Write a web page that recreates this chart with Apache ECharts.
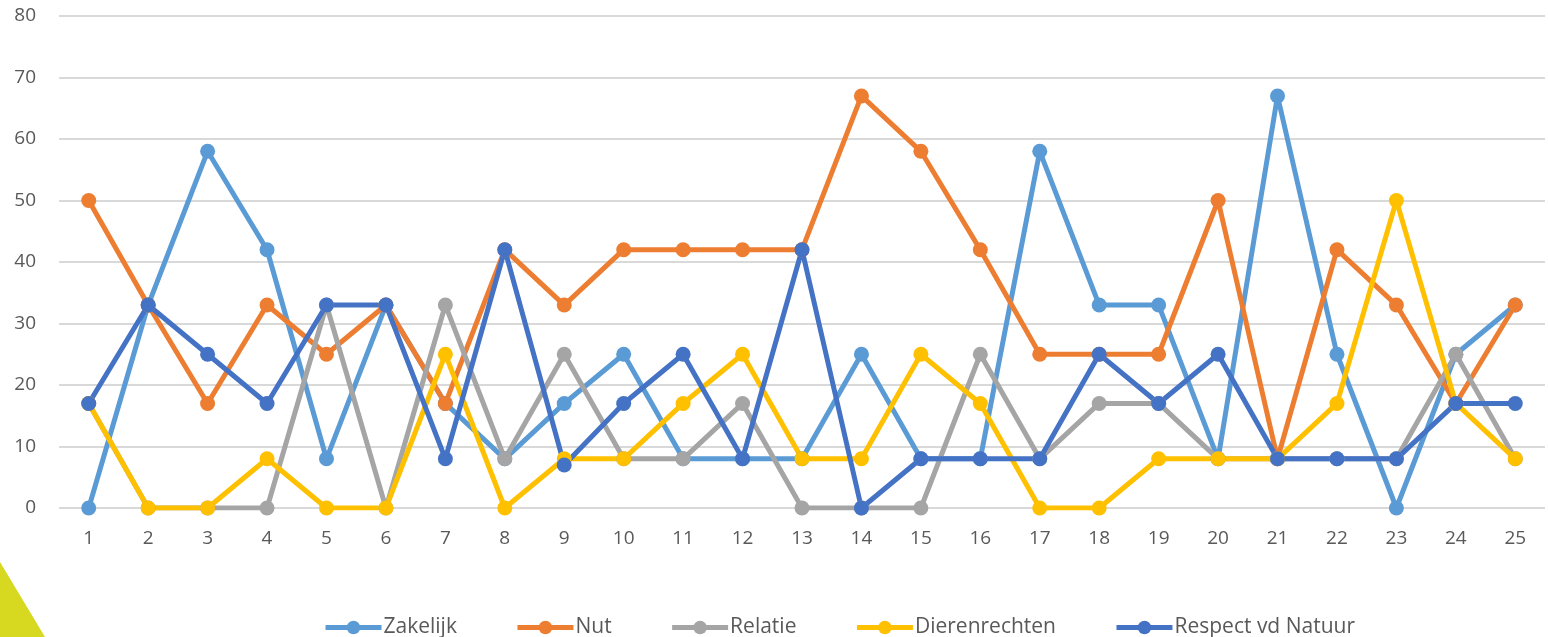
<!DOCTYPE html>
<html>
<head>
<meta charset="utf-8">
<script src="https://cdn.jsdelivr.net/npm/echarts@6/dist/echarts.min.js"></script>
<style>
html, body { margin: 0; padding: 0; background: #fff; }
#chart { width: 1548px; height: 637px; }
</style>
</head>
<body>
<div id="chart"></div>
<script>
// categorieen 1..25
var categories = ['1','2','3','4','5','6','7','8','9','10','11','12','13','14','15','16','17','18','19','20','21','22','23','24','25']
var zakelijk = [0,33,58,42,8,33,17,8,17,25,8,8,8,25,8,8,58,33,33,8,67,25,0,25,33]
var nut = [50,33,17,33,25,33,17,42,33,42,42,42,42,67,58,42,25,25,25,50,8,42,33,17,33]
var relatie = [17,0,0,0,33,0,33,8,25,8,8,17,0,0,0,25,8,17,17,8,8,8,8,25,8]
var dierenrechten = [17,0,0,8,0,0,25,0,8,8,17,25,8,8,25,17,0,0,8,8,8,17,50,17,8]
var respect = [17,33,25,17,33,33,8,42,7,17,25,8,42,0,8,8,8,25,17,25,8,8,8,17,17]

var names = ['Zakelijk','Nut','Relatie','Dierenrechten','Respect vd Natuur']
var colors = ['#5B9BD5','#ED7D31','#A5A5A5','#FFC000','#4472C4']
var values = [zakelijk, nut, relatie, dierenrechten, respect]

var font = '"Open Sans", "Noto Sans", sans-serif'

var series = []
values.forEach(function(item, index) {
    series.push({
        name: names[index],
        type: 'line',
        data: item,
        symbol: 'circle',
        symbolSize: 15,
        lineStyle: { width: 5, color: colors[index] },
        itemStyle: { color: colors[index] },
        emphasis: { disabled: true },
        animation: false
    })
})

var chart = echarts.init(document.getElementById('chart'))
var option = {
    color: colors,
    grid: { left: 59, right: 3, top: 16, bottom: 129 },
    xAxis: {
        type: 'category',
        data: categories,
        boundaryGap: true,
        axisLine: { show: false },
        axisTick: { show: false },
        axisLabel: { color: '#595959', fontSize: 19, fontFamily: font, margin: 21, interval: 0 }
    },
    yAxis: {
        type: 'value',
        min: 0,
        max: 80,
        interval: 10,
        axisLine: { show: false },
        axisTick: { show: false },
        axisLabel: { color: '#595959', fontSize: 19, fontFamily: font, margin: 23 },
        splitLine: { lineStyle: { color: '#D9D9D9', width: 2 } }
    },
    legend: {
        data: names,
        top: 617,
        left: 323,
        padding: 0,
        itemWidth: 56,
        itemHeight: 17,
        itemGap: 58,
        lineStyle: { width: 5 },
        textStyle: { color: '#595959', fontSize: 21, fontFamily: font, padding: [0, 0, 0, -3] }
    },
    graphic: [{
        type: 'polygon',
        shape: { points: [[0, 562], [45, 637], [0, 637]] },
        style: { fill: '#D6D91F' },
        z: -1
    }],
    series: series
}
chart.setOption(option)
</script>
</body>
</html>
